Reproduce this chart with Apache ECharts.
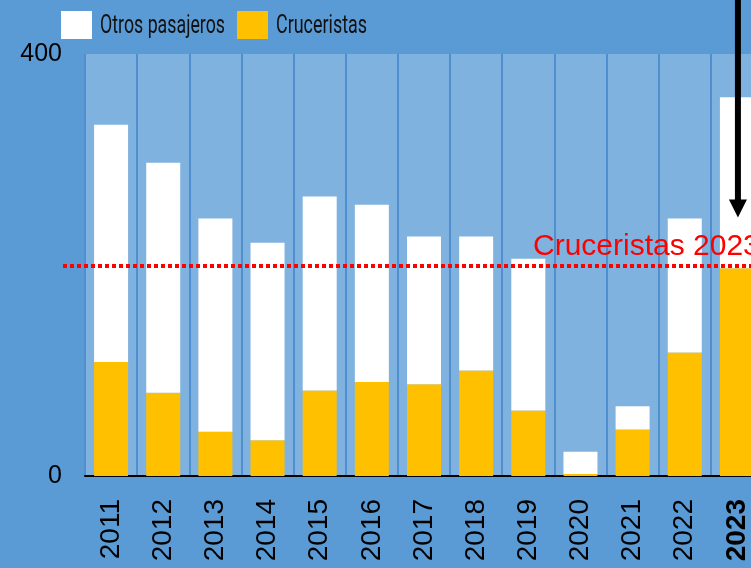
<!DOCTYPE html>
<html>
<head>
<meta charset="utf-8">
<script src="https://cdn.jsdelivr.net/npm/echarts@6/dist/echarts.min.js"></script>
<style>
  html, body { margin: 0; padding: 0; background: #5b9bd5; overflow: hidden; }
  #chart { width: 775px; height: 568px; }
</style>
</head>
<body>
<div id="chart"></div>
<script>
// datos (miles de pasajeros)
const years = ['2011', '2012', '2013', '2014', '2015', '2016', '2017', '2018', '2019', '2020', '2021', '2022', '2023'];
const cruceristas = [108, 79, 42, 34, 81, 89, 87, 100, 62, 2, 44, 117, 197];
const otros = [225, 218, 202, 187, 184, 168, 140, 127, 144, 21, 22, 127, 162];
const yTicks = [0, 400];
const refValue = 199;
const refLabel = 'Cruceristas 2023';
const arrowFrom = 452;
const arrowTo = 245;

const legendFont = '25px Roboto';
// texto estrecho de la leyenda: ancho objetivo en px
function narrowText(text, x, width) {
    const ctx = document.createElement('canvas').getContext('2d');
    ctx.font = legendFont;
    const w = ctx.measureText(text).width;
    return {
        type: 'text',
        x: x,
        y: 27,
        scaleX: width / w,
        style: {
            text: text,
            fill: '#111',
            font: legendFont,
            textVerticalAlign: 'middle'
        }
    };
}

const chart = echarts.init(document.getElementById('chart'));

const legendBase = {
    top: 11,
    padding: 0,
    icon: 'rect',
    itemWidth: 31,
    itemHeight: 28,
    formatter: () => ''
};

const option = {
    backgroundColor: '#5b9bd5',
    animation: false,
    legend: [
        Object.assign({ data: ['Otros pasajeros'], left: 61 }, legendBase),
        Object.assign({ data: ['Cruceristas'], left: 237 }, legendBase)
    ],
    grid: {
        left: 85,
        top: 54,
        width: 678,
        height: 422,
        show: true,
        backgroundColor: '#80b2df',
        borderWidth: 0
    },
    xAxis: {
        type: 'category',
        data: years,
        offset: 3,
        axisLine: { lineStyle: { color: '#000', width: 2 } },
        axisTick: { show: false },
        splitLine: {
            show: true,
            interval: 0,
            lineStyle: { color: '#4f8fd0', width: 2 }
        },
        axisLabel: {
            rotate: 90,
            interval: 0,
            margin: 20,
            fontFamily: 'Liberation Sans',
            fontSize: 28,
            color: '#000',
            formatter: (v) => v === '2023' ? '{b|' + v + '}' : v,
            rich: {
                b: { fontWeight: 'bold', fontSize: 28, fontFamily: 'Liberation Sans', color: '#000' }
            }
        }
    },
    yAxis: {
        type: 'value',
        min: yTicks[0],
        max: yTicks[1],
        interval: yTicks[1] - yTicks[0],
        axisLine: { show: false },
        axisTick: { show: false },
        splitLine: { show: false },
        axisLabel: {
            margin: 23,
            fontFamily: 'Liberation Sans',
            fontSize: 25,
            color: '#000'
        }
    },
    series: [
        {
            name: 'Cruceristas',
            type: 'bar',
            stack: 'total',
            barWidth: 34,
            itemStyle: { color: '#ffc000' },
            data: cruceristas
        },
        {
            name: 'Otros pasajeros',
            type: 'bar',
            stack: 'total',
            barWidth: 34,
            itemStyle: { color: '#ffffff' },
            data: otros
        }
    ]
};

chart.setOption(option);

// línea de referencia, etiqueta, flecha y textos de la leyenda
const lineY = chart.convertToPixel({ yAxisIndex: 0 }, refValue);
const arrowX = chart.convertToPixel({ xAxisIndex: 0 }, '2023');
const arrowTop = chart.convertToPixel({ yAxisIndex: 0 }, arrowFrom);
const arrowTip = chart.convertToPixel({ yAxisIndex: 0 }, arrowTo);

chart.setOption({
    graphic: [
        narrowText('Otros pasajeros', 100, 125),
        narrowText('Cruceristas', 276, 91),
        {
            type: 'line',
            shape: { x1: 63, y1: lineY, x2: 775, y2: lineY },
            style: { stroke: '#ff0000', lineWidth: 4, lineDash: [4, 3] },
            z: 10
        },
        {
            type: 'text',
            x: 533,
            y: lineY - 4,
            style: {
                text: refLabel,
                fill: '#ff0000',
                fontFamily: 'Liberation Sans',
                fontSize: 30,
                textVerticalAlign: 'bottom'
            },
            z: 10
        },
        {
            type: 'line',
            shape: { x1: arrowX + 1, y1: arrowTop, x2: arrowX + 1, y2: arrowTip - 16 },
            style: { stroke: '#000', lineWidth: 6 },
            z: 11
        },
        {
            type: 'polygon',
            shape: { points: [[arrowX - 8, arrowTip - 18], [arrowX + 10, arrowTip - 18], [arrowX + 1, arrowTip]] },
            style: { fill: '#000' },
            z: 11
        }
    ]
});
</script>
</body>
</html>
